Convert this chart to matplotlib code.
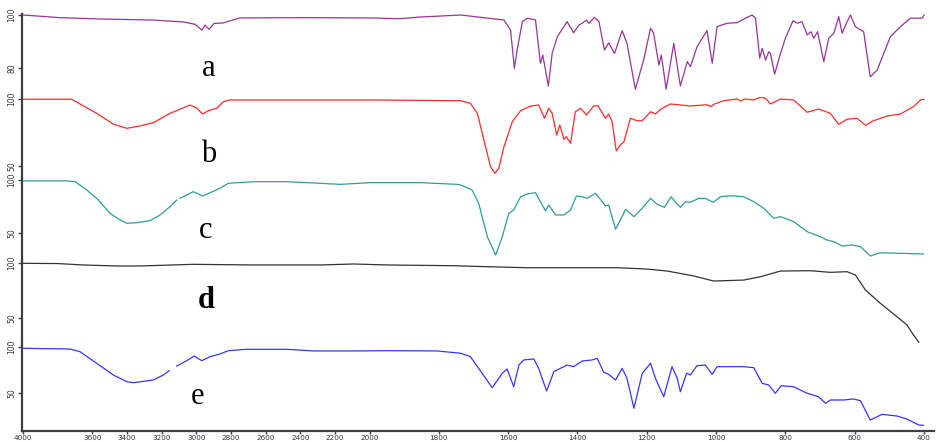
import numpy as np
import matplotlib
matplotlib.use("Agg")
import matplotlib.pyplot as plt
from matplotlib.ticker import FixedLocator, FixedFormatter

nan = np.nan

# ---- spectra: wavenumber (cm-1) / transmittance (%) ----
a_wn = [4000, 3786, 3556, 3250, 3076, 3007, 2967, 2950, 2926, 2898, 2846, 2748, 2401, 2000, 1911, 1860,
        1737, 1612, 1593, 1582, 1574, 1559, 1545, 1521, 1507, 1500, 1484, 1473, 1458, 1430, 1411, 1396,
        1386, 1374, 1367, 1351, 1338, 1322, 1310, 1293, 1271, 1257, 1233, 1209, 1189, 1180, 1165, 1158,
        1144, 1122, 1103, 1083, 1074, 1055, 1026, 1011, 997, 968, 939, 915, 896, 886, 874, 867, 857, 848,
        843, 831, 814, 800, 778, 766, 752, 737, 726, 718, 707, 689, 675, 660, 646, 636, 624, 612, 598,
        574, 555, 535, 497, 468, 439, 405, 400]
a_t = [100, 99.0, 98.5, 98.1, 97.4, 96.5, 94.3, 96.2, 94.6, 96.8, 97.0, 98.9, 99.0, 98.9, 98.6, 99.2,
       100, 98.1, 94.3, 79.9, 86.8, 97.5, 98.8, 98.1, 81.8, 84.9, 73.2, 85.5, 91.8, 97.5, 93.3, 96.2,
       96.9, 98.1, 96.9, 99.1, 97.5, 86.8, 89.5, 85.5, 94.1, 89.3, 72.0, 83.0, 95.0, 93.1, 81.1, 84.9,
       72.0, 89.3, 73.2, 82.4, 80.5, 88.0, 94.1, 81.8, 95.6, 96.9, 97.1, 98.8, 100, 98.8, 83.7, 87.4, 83.0,
       86.1, 85.5, 77.7, 85.5, 91.2, 97.8, 96.9, 97.5, 92.5, 93.7, 91.2, 93.7, 82.4, 91.2, 93.1, 99.4,
       93.1, 96.9, 100, 95.6, 93.7, 76.7, 79.2, 91.8, 95.6, 98.8, 98.8, 100]

b_wn = [4000, 3719, 3575, 3479, 3401, 3325, 3248, 3152, 3036, 2997, 2963, 2930, 2882, 2844, 2805, 2400,
        2000, 1737, 1709, 1689, 1670, 1651, 1638, 1627, 1612, 1588, 1564, 1535, 1512, 1495, 1483, 1473,
        1460, 1451, 1439, 1432, 1420, 1406, 1391, 1374, 1353, 1341, 1319, 1310, 1300, 1288, 1276, 1266,
        1247, 1228, 1213, 1189, 1175, 1160, 1132, 1074, 1026, 1014, 1007, 978, 939, 930, 915, 891, 872,
        857, 843, 814, 776, 737, 704, 670, 646, 622, 593, 569, 545, 506, 468, 430, 410, 400]
b_t = [99.8, 99.8, 89.3, 81.3, 78.1, 79.9, 82.3, 89.3, 95.5, 93.1, 88.8, 91.3, 93.1, 98.0, 99.3, 99.3,
       99.3, 98.7, 96.8, 89.3, 69.4, 49.5, 44.6, 48.3, 64.4, 83.1, 91.3, 94.8, 95.5, 85.6, 93.1, 89.3,
       73.1, 80.6, 69.9, 71.9, 66.9, 90.5, 93.1, 88.1, 94.8, 95.0, 85.6, 88.8, 83.1, 61.2, 65.7, 68.1,
       85.6, 83.8, 83.8, 90.5, 88.8, 92.3, 96.3, 94.8, 95.7, 94.3, 96.0, 98.7, 100, 98.5, 100, 99.3, 101.3,
       100.5, 96.3, 100, 99.3, 90.1, 92.5, 89.3, 81.1, 84.9, 85.6, 80.4, 83.8, 87.3, 88.8, 94.3, 99.3, 99.8]

c_wn = [4000, 3748, 3700, 3632, 3565, 3498, 3440, 3401, 3344, 3267, 3209, 3152, 3113, 3104, 3094, 3017,
        2963, 2921, 2863, 2815, 2671, 2478, 2286, 2170, 1997, 1853, 1747,
        1737, 1704, 1685, 1660, 1636, 1617, 1598, 1584, 1564, 1545, 1521, 1507, 1492, 1483, 1463, 1439,
        1420, 1403, 1386, 1372, 1348, 1334, 1319, 1310, 1290, 1276, 1261, 1237, 1213, 1189, 1170, 1149,
        1130, 1114, 1103, 1088, 1074, 1050, 1031, 1008, 987, 958, 920, 891, 862, 834, 814, 776, 737, 699,
        680, 660, 636, 607, 583, 555, 526, 468, 401]
c_t = [99.1, 99.1, 98.4, 90.6, 81.1, 68.6, 62.3, 59.2, 59.7, 61.6, 67.0, 74.8, 81.1, nan, 82.7, 89.0,
       84.9, 88.0, 92.2, 96.9, 98.4, 98.4, 96.9, 95.9, 97.5, 97.5, 95.9,
       95.3, 90.6, 78.0, 46.5, 29.2, 46.5, 68.6, 71.7, 84.2, 86.8, 88.0, 79.5, 71.0, 76.4, 67.0, 67.0,
       71.7, 84.9, 84.2, 82.7, 87.5, 81.8, 75.5, 76.4, 53.5, 62.3, 72.4, 65.4, 73.3, 82.7, 77.1, 74.2,
       84.2, 78.0, 74.2, 79.5, 79.0, 82.7, 82.7, 79.0, 84.2, 85.2, 84.2, 79.5, 73.3, 63.9, 65.4, 60.7,
       51.2, 46.5, 43.4, 41.8, 37.7, 38.7, 37.1, 28.3, 31.4, 30.8, 30.2]

d_wn = [4000, 3800, 3652, 3459, 3325, 3017, 2671, 2286, 2093, 1949, 1747, 1737, 1545, 1285, 1199, 1141,
        1064, 1007, 920, 872, 814, 728, 670, 622, 598, 569, 526, 478, 449, 430, 415]
d_t = [99.7, 99.5, 98.2, 97.3, 97.3, 98.8, 98.2, 98.2, 99.1, 98.2, 97.5, 97.3, 95.7, 95.7, 94.5, 92.7,
       88.2, 83.6, 84.5, 87.5, 92.7, 93.0, 91.5, 92.1, 89.1, 75.5, 63.4, 51.2, 43.6, 34.5, 27.9]

e_wn = [4000, 3729, 3671, 3575, 3479, 3401, 3363, 3248, 3190, 3156, 3135, 3113, 3055, 3013, 2968, 2921,
        2863, 2815, 2709, 2478, 2324, 2093, 1949, 1805, 1737,
        1709, 1685, 1646, 1617, 1603, 1593, 1584, 1569, 1555, 1526, 1512, 1489, 1468, 1449, 1430, 1411,
        1386, 1358, 1343, 1324, 1310, 1290, 1271, 1257, 1237, 1213, 1189, 1175, 1151, 1127, 1112, 1103,
        1085, 1074, 1055, 1031, 1011, 997, 920, 891, 867, 848, 829, 812, 776, 737, 704, 684, 670, 632,
        603, 583, 555, 521, 478, 449, 415, 401]
e_t = [98.6, 97.8, 94.9, 82.3, 69.6, 62.3, 61.2, 64.1, 69.6, 74.2, nan, 79.3, 85.1, 90.2, 85.1, 89.5,
       92.4, 96.0, 97.5, 97.5, 95.7, 95.7, 96.0, 95.7, 93.2,
       89.5, 76.8, 55.8, 71.4, 76.1, 66.0, 56.8, 80.4, 85.9, 87.0, 76.8, 52.2, 73.2, 76.8, 80.4, 78.6,
       84.8, 85.9, 87.7, 72.5, 70.3, 64.1, 76.8, 66.0, 33.4, 71.4, 82.3, 66.0, 46.0, 78.6, 66.0, 51.4,
       71.4, 69.6, 79.7, 80.4, 70.3, 78.6, 78.6, 77.5, 60.5, 58.7, 49.7, 57.9, 56.8, 49.7, 46.0, 38.8,
       42.4, 42.4, 43.5, 41.6, 20.6, 26.8, 25.0, 21.7, 15.2, 14.9]

series = [a_wn, b_wn, c_wn, d_wn, e_wn]
values = [a_t, b_t, c_t, d_t, e_t]
names = ["a", "b", "c", "d", "e"]
colors = ["#993399", "#ff2a2a", "#2e9c9c", "#333333", "#3535ff"]
low_ticks = [80, 50, 50, 50, 50]

xticks = [4000, 3600, 3400, 3200, 3000, 2800, 2600, 2400, 2200, 2000,
          1800, 1600, 1400, 1200, 1000, 800, 600, 400]


# 4000-2000 drawn at half the scale of 2000-400
def fwd(w):
    w = np.asarray(w, dtype=float)
    return np.where(w > 2000, 2000 + (w - 2000) / 2.0, w)


def inv(u):
    u = np.asarray(u, dtype=float)
    return np.where(u > 2000, 2000 + (u - 2000) * 2.0, u)


W, H = 939, 443
fig = plt.figure(figsize=(W / 100, H / 100), dpi=100)

# panel rows in pixels (top, bottom) and the y-limits for each strip
rows = [(14, 97), (97, 178), (178, 261), (261, 345), (345, 431)]
ylims = [(69.06, 100.38), (41.04, 101.49), (23.58, 101.89), (25.45, 101.82), (8.70, 102.17)]
label_pos = [(209, 76), (209, 162), (206, 238), (206, 308), (197, 404)]

ax_left, ax_right = 22, 934
axes = []
for i in range(5):
    top, bot = rows[i]
    ax = fig.add_axes([ax_left / W, 1 - bot / H, (ax_right - ax_left) / W, (bot - top) / H])
    ax.set_facecolor("none")
    ax.set_xscale("function", functions=(fwd, inv))
    ax.set_xlim(4006, 371)
    ax.set_ylim(*ylims[i])

    ax.plot(series[i], values[i], color=colors[i], lw=0.9, solid_joinstyle="round")

    for s in ("top", "right"):
        ax.spines[s].set_visible(False)
    ax.spines["left"].set_color("#404040")
    ax.spines["left"].set_linewidth(1.6)

    ax.yaxis.set_major_locator(FixedLocator([100, low_ticks[i]]))
    ax.yaxis.set_major_formatter(FixedFormatter(["100", str(low_ticks[i])]))
    ax.tick_params(axis="y", direction="out", length=3, width=1, color="#404040",
                   labelsize=5.5, labelcolor="#333344", pad=1)
    for lab in ax.get_yticklabels():
        lab.set_rotation(90)
        lab.set_va("center")

    if i < 4:
        ax.spines["bottom"].set_visible(False)
        ax.set_xticks([])
    else:
        ax.spines["bottom"].set_color("#404040")
        ax.spines["bottom"].set_linewidth(1.6)
        ax.xaxis.set_major_locator(FixedLocator(xticks))
        ax.xaxis.set_major_formatter(FixedFormatter([str(t) for t in xticks]))
        ax.xaxis.set_minor_locator(FixedLocator([]))
        ax.tick_params(axis="x", direction="out", length=2.5, width=1, color="#404040",
                       labelsize=5.2, labelcolor="#333344", pad=0.5)
    axes.append(ax)

    lx, ly = label_pos[i]
    fig.text(lx / W, 1 - ly / H, names[i], ha="center", va="baseline",
             family="Liberation Serif", fontsize=22,
             fontweight="bold" if names[i] == "d" else "normal")

fig.savefig("out.png", dpi=100)
